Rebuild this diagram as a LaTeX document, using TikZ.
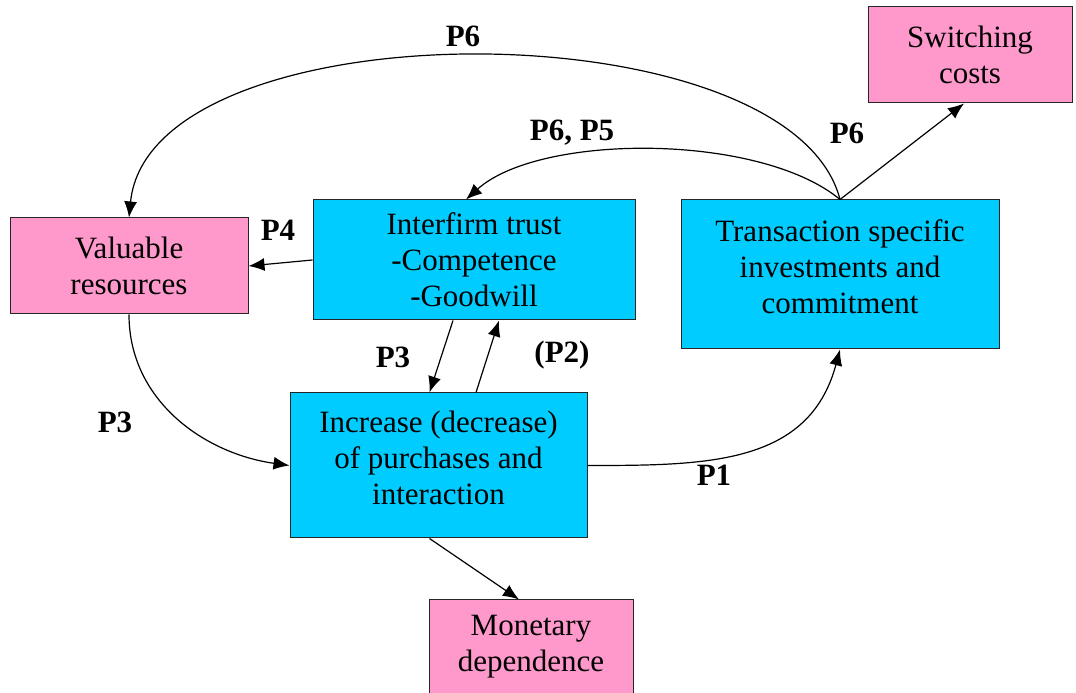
\documentclass[tikz,border=0pt]{standalone}
\usepackage{fontspec}
\setmainfont{Liberation Serif}
\usetikzlibrary{arrows.meta, positioning}
\definecolor{pinkfill}{HTML}{FF99CC}
\definecolor{bluefill}{HTML}{00CCFF}

\begin{document}
\begin{tikzpicture}[
			x=1pt, y=1pt,
			box/.style={draw=black!85, line width=1pt, align=center, inner sep=0pt, font=\fontsize{31}{36}\selectfont},
			pinkbox/.style={box, fill=pinkfill},
			bluebox/.style={box, fill=bluefill},
			lbl/.style={inner sep=0pt, font=\bfseries\fontsize{31}{36}\selectfont},
			arrow/.style={-{Latex[length=16pt, width=13pt]}, line width=1.2pt}
		]
		\useasboundingbox (0,0) rectangle (1076,693);
		\node[pinkbox, minimum width=238pt, minimum height=96pt] (valuable) at (129,427) {Valuable\\resources};
		\node[bluebox, minimum width=322pt, minimum height=120pt, right=64pt of valuable, yshift=6pt] (trust) {Interfirm trust\\-Competence\\-Goodwill};
		\node[bluebox, minimum width=318pt, minimum height=149pt, right=45pt of trust.north east, anchor=north west] (tsi) {Transaction specific\\investments and\\commitment\\[-20pt]\mbox{}};
		\node[pinkbox, minimum width=204pt, minimum height=96pt, above=96pt of tsi.north east, anchor=south east, xshift=73pt] (switching) {Switching\\costs};
		\node[bluebox, minimum width=297pt, minimum height=145pt, below=72pt of trust, xshift=-35.5pt] (increase) {Increase (decrease)\\of purchases and\\interaction\\[-20pt]\mbox{}};
		\node[pinkbox, minimum width=204pt, minimum height=94pt, below=61pt of increase, xshift=92.5pt] (monetary) {Monetary\\dependence};

		\node[lbl] (p6top) at (463,657) {P6};
		\node[lbl] (p6p5) at (572,560) {P6, P5};
		\node[lbl] (p6right) at (847,560) {P6};
		\node[lbl] (p4) at (278,463) {P4};
		\node[lbl] (p3left) at (115,271) {P3};
		\node[lbl] (p3mid) at (393,336) {P3};
		\node[lbl] (p2) at (562,338) {(P2)};
		\node[lbl] (p1) at (714,218) {P1};

		\draw[arrow] (tsi.north) .. controls (790,688) and (150,688) .. (valuable.north);
		\draw[arrow] (tsi.north) .. controls (760,560) and (540,560) .. ([xshift=-8pt]trust.north);
		\draw[arrow] (tsi.north) -- ([xshift=-6pt]switching.south);
		\draw[arrow] (trust.west) -- (valuable.east);
		\draw[arrow] (valuable.south) to[out=-90, in=172] (increase.west);
		\draw[arrow] ([xshift=-21pt]trust.south) -- ([xshift=-9pt]increase.north);
		\draw[arrow] ([xshift=37.5pt]increase.north) -- ([xshift=25pt]trust.south);
		\draw[arrow] (increase.east) to[out=0, in=-105, looseness=1.1] (tsi.south);
		\draw[arrow] ([xshift=-9pt]increase.south) -- ([xshift=-12pt]monetary.north);
	\end{tikzpicture}
\end{document}
